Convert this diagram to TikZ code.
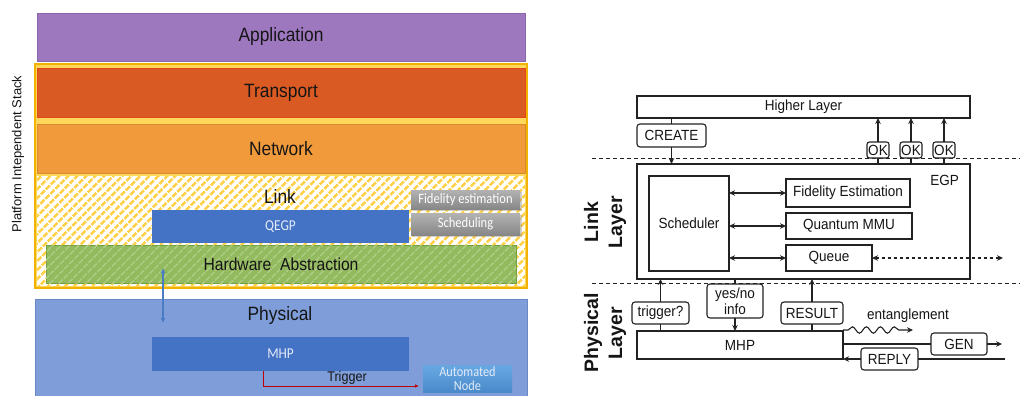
\documentclass[tikz,border=0pt]{standalone}
\usepackage{fontspec}
\setmainfont{Liberation Sans}
\newfontfamily\sansL[FakeStretch=0.9]{Liberation Sans}
\newfontfamily\sansR[FakeStretch=0.92]{Liberation Sans}
\newfontfamily\calibri[FakeStretch=0.88]{Carlito}
\usetikzlibrary{arrows.meta,patterns.meta,shadows,decorations.pathmorphing}

\definecolor{appP}{HTML}{9E78BF}
\definecolor{appB}{HTML}{8A66AE}
\definecolor{frameY}{HTML}{FFD75A}
\definecolor{frameB}{HTML}{F2B200}
\definecolor{transO}{HTML}{DA5A23}
\definecolor{transB}{HTML}{E2471A}
\definecolor{netO}{HTML}{F19A3C}
\definecolor{netB}{HTML}{D98A30}
\definecolor{hatchY}{HTML}{FFD04A}
\definecolor{hwG}{HTML}{93BA5E}
\definecolor{hwL}{HTML}{ABCB80}
\definecolor{hwB}{HTML}{72A040}
\definecolor{protB}{HTML}{4472C4}
\definecolor{protT}{HTML}{E4ECF8}
\definecolor{physB}{HTML}{7F9ED9}
\definecolor{physE}{HTML}{6A88C8}
\definecolor{autoT}{HTML}{68A8E2}
\definecolor{autoD}{HTML}{4A8ACB}
\definecolor{trigR}{HTML}{C00000}
\definecolor{arrB}{HTML}{4A7CC4}
\definecolor{txtL}{HTML}{151515}
\definecolor{lineC}{HTML}{222222}

\tikzset{
  layer/.style={draw, anchor=north west, inner sep=0pt, outer sep=0pt, line width=0.8pt,
    font=\sansL\fontsize{19.3}{22}\selectfont, text=txtL},
  proto/.style={anchor=north west, inner sep=0pt, outer sep=0pt, fill=protB,
    font=\calibri\fontsize{15.1}{17}\selectfont, text=protT},
  graybox/.style={anchor=north west, inner sep=0pt, outer sep=0pt,
    top color=black!30, bottom color=black!47,
    drop shadow={shadow xshift=1.5pt, shadow yshift=-1.5pt, opacity=0.35},
    font=\calibri\fontsize{14.3}{16}\selectfont, text=white},
  rbox/.style={draw=lineC, line width=1.1pt, anchor=north west, inner sep=0pt, outer sep=0pt,
    fill=white, font=\sansR\fontsize{14.7}{16}\selectfont, text=txtL},
  rround/.style={rbox, rounded corners=3pt},
  sideLabel/.style={rotate=90, align=center, font=\bfseries\fontsize{19.5}{24}\selectfont, text=txtL},
  conn/.style={draw=lineC, line width=1.1pt},
  arr/.style={conn, -{Stealth[length=6pt,width=5.5pt]}},
  darr/.style={conn, {Stealth[length=6pt,width=5.5pt]}-{Stealth[length=6pt,width=5.5pt]}},
  sep/.style={draw=lineC, line width=1pt, dash pattern=on 4pt off 3pt}
}

\begin{document}
\begin{tikzpicture}[x=1pt,y=-1pt]
\useasboundingbox (0,0) rectangle (1020,396);
\fill[white] (0,0) rectangle (1020,396);

% ---------------- protocol stack ----------------
\node[rotate=90, font=\fontsize{13}{15}\selectfont, text=txtL] (stack) at (18,154) {Platform Intependent Stack};

\node[layer, fill=appP, draw=appB, minimum width=488pt, minimum height=48pt] (app) at (37,13) {Application};

\node[anchor=north west, inner sep=0pt, outer sep=0pt, fill=frameY, minimum width=492pt, minimum height=224pt] (frame) at (35,64) {};

\node[layer, fill=transO, draw=transB, minimum width=488pt, minimum height=49pt] (transport) at (37,68) {Transport};
\node[layer, fill=netO, draw=netB, minimum width=488pt, minimum height=49pt] (network) at (37,124) {Network};

\node[anchor=north west, inner sep=0pt, outer sep=0pt, fill=white, minimum width=488pt, minimum height=110pt,
  postaction={pattern={Lines[angle=45,distance=6.5pt,line width=2.8pt]}, pattern color=hatchY}] (link) at (37,176) {};
\node[font=\sansL\fontsize{19.3}{22}\selectfont, text=txtL] (linklbl) at (280,197) {Link};

\node[graybox, minimum width=109pt, minimum height=19pt] (fid) at (411,190) {Fidelity estimation};
\node[graybox, minimum width=109pt, minimum height=22pt] (sch) at (411,213) {Scheduling};
\node[proto, minimum width=257pt, minimum height=33pt] (qegp) at (152,210) {QEGP};

\node[layer, fill=hwG, draw=hwB, minimum width=470pt, minimum height=38pt,
  postaction={pattern={Lines[angle=45,distance=6.5pt,line width=1.6pt]}, pattern color=hwL}] (hw) at (46,245) {};
\node[font=\sansL\fontsize{17.4}{20}\selectfont, text=txtL] (hwlbl) at (hw.center) {Hardware\ \ Abstraction};

\draw[frameB, line width=1.6pt] (frame.north west) rectangle (frame.south east);

\node[layer, fill=physB, draw=physE, minimum width=492pt, minimum height=100pt] (phys) at (35,299) {};
\node[font=\sansL\fontsize{19.3}{22}\selectfont, text=txtL] (physlbl) at (280,316) {Physical};
\node[proto, minimum width=257pt, minimum height=34pt] (mhpL) at (152,337) {MHP};
\node[anchor=north west, inner sep=0pt, outer sep=0pt, top color=autoT, bottom color=autoD,
  minimum width=89pt, minimum height=27pt, align=center,
  font=\calibri\fontsize{14}{13.5}\selectfont, text=protT] (auto) at (423,365) {Automated\\Node};

\coordinate (hwlink) at (163,268);
\coordinate (phylink) at (163,323);
\draw[arrB, line width=1.6pt, {Latex[length=5pt,width=5pt]}-{Latex[length=5pt,width=5pt]}] (hwlink) -- (phylink);

\coordinate (trigbend) at (263,386);
\draw[trigR, line width=1pt, -{Latex[length=4pt,width=3.5pt]}] (mhpL.south -| trigbend) -- (trigbend) -- ([xshift=-4pt]auto.west |- trigbend);
\node[font=\sansL\fontsize{14}{16}\selectfont, text=txtL, anchor=south] (triglbl) at (347,388) {Trigger};

% ---------------- link / physical layer view ----------------
\coordinate (sepL1) at (592,158);
\coordinate (sepR1) at (1020,158);
\coordinate (sepL2) at (592,283);
\coordinate (sepR2) at (1020,283);
\draw[sep] (sepL1) -- (sepR1);
\draw[sep] (sepL2) -- (sepR2);

\node[sideLabel] (linklayer) at (605,222) {Link\\Layer};
\node[sideLabel] (physlayer) at (605,333) {Physical\\Layer};

\node[rbox, minimum width=333pt, minimum height=22pt] (hl) at (637,96) {Higher Layer};
\node[rbox, minimum width=333pt, minimum height=115pt] (egp) at (637,164) {};
\node[anchor=north east, inner sep=0pt, font=\sansR\fontsize{14.7}{16}\selectfont, text=txtL] (egplbl) at (959,175) {EGP};

\node[rround, minimum width=69pt, minimum height=23pt] (create) at (637,124) {CREATE};
\draw[conn] (hl.south -| create) -- (create.north);
\draw[arr] (create.south) -- (create.south |- egp.north);

\node[rround, minimum width=22pt, minimum height=16pt, rounded corners=2.5pt] (ok1) at (867,142) {OK};
\node[rround, minimum width=22pt, minimum height=16pt, rounded corners=2.5pt] (ok2) at (900,142) {OK};
\node[rround, minimum width=22pt, minimum height=16pt, rounded corners=2.5pt] (ok3) at (933,142) {OK};
\foreach \k in {ok1,ok2,ok3}{
  \draw[arr] (\k.north) -- (\k.north |- hl.south);
  \draw[conn] (\k.south) -- (\k.south |- egp.north);
}

\node[rbox, minimum width=80pt, minimum height=95pt] (sched) at (649,176) {Scheduler};
\node[rbox, minimum width=124pt, minimum height=28pt] (fidR) at (786,179) {Fidelity Estimation};
\node[rbox, minimum width=126pt, minimum height=26pt] (mmu) at (786,213) {Quantum MMU};
\node[rbox, minimum width=86pt, minimum height=26pt] (queue) at (786,245) {Queue};
\draw[darr] (sched.east |- fidR.west) -- (fidR.west);
\draw[darr] (sched.east |- mmu.west) -- (mmu.west);
\draw[darr] (sched.east |- queue.west) -- (queue.west);
\coordinate (qend) at (1003,258);
\draw[darr, dash pattern=on 3pt off 3pt] (queue.east) -- (qend);

\node[rbox, minimum width=206pt, minimum height=28pt] (mhp) at (637,331) {MHP};

\node[rround, minimum width=57pt, minimum height=22pt] (trig) at (632,302) {trigger?};
\draw[conn] (trig.south) -- (trig.south |- mhp.north);
\draw[arr] (trig.north) -- (trig.north |- egp.south);

\node[rround, minimum width=56pt, minimum height=34pt, align=center] (yesno) at (707,284) {yes/no\\info};
\draw[conn] (yesno.north |- egp.south) -- (yesno.north);
\draw[arr] (yesno.south) -- (yesno.south |- mhp.north);

\node[rround, minimum width=62pt, minimum height=22pt] (result) at (781,302) {RESULT};
\draw[conn] (result.south) -- (result.south |- mhp.north);
\draw[arr] (result.north) -- (result.north |- egp.south);

\coordinate (waveend) at (913,330);
\draw[conn, -{Stealth[length=6pt,width=5.5pt]}, decorate,
  decoration={snake, amplitude=3.2pt, segment length=14pt, pre length=5pt, post length=8pt}]
  (mhp.east |- waveend) -- (waveend);
\node[font=\sansR\fontsize{14.7}{16}\selectfont, text=txtL] (entl) at (908,316) {entanglement};

\node[rround, minimum width=56pt, minimum height=22pt] (gen) at (931,333) {GEN};
\coordinate (genend) at (1002,344);
\draw[conn] (mhp.east |- gen.west) -- (gen.west);
\draw[arr] (gen.east) -- (genend);

\node[rround, minimum width=57pt, minimum height=22pt] (reply) at (861,348) {REPLY};
\coordinate (replyin) at (1005,359);
\draw[conn] (replyin) -- (reply.east);
\draw[arr] (reply.west) -- (mhp.east |- reply.west);
\end{tikzpicture}
\end{document}
